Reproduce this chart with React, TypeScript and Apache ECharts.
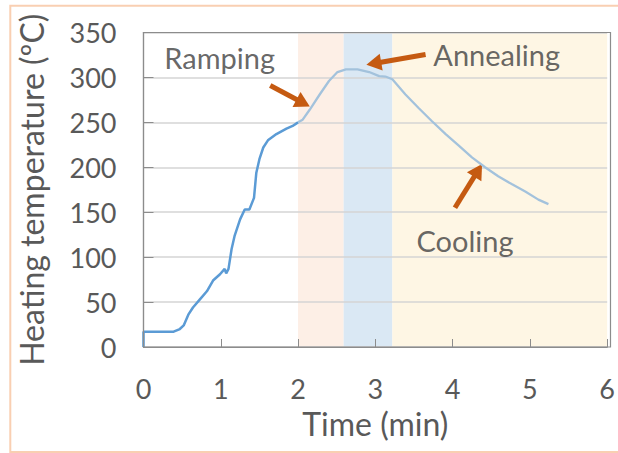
import React, { useEffect, useRef } from "react";
import * as echarts from "echarts";

// Heating profile: dark part (ramp-up) and light part (ramping/annealing/cooling)
const heatingCurve: [number, number][] = [
  [0, 0], [0, 17], [0.39, 17], [0.47, 20], [0.52, 24], [0.58, 36], [0.64, 44],
  [0.73, 53], [0.82, 62], [0.9, 74], [0.99, 81], [1.05, 87], [1.07, 82], [1.1, 87],
  [1.14, 109], [1.18, 124], [1.25, 142], [1.31, 153], [1.37, 153], [1.43, 166],
  [1.46, 194], [1.5, 209], [1.55, 222], [1.61, 230], [1.72, 237], [1.85, 243],
  [1.93, 246], [2.0, 250],
];
const processCurve: [number, number][] = [
  [2.0, 250], [2.06, 253], [2.15, 264], [2.28, 281], [2.4, 296], [2.51, 306],
  [2.62, 309], [2.77, 309], [2.92, 306], [3.05, 301.5], [3.13, 301], [3.22, 298],
  [3.39, 281], [3.56, 266], [3.73, 251.5], [3.91, 237], [4.08, 224], [4.25, 211],
  [4.42, 200], [4.59, 190], [4.77, 181], [4.94, 173], [5.11, 164], [5.24, 159],
];
// Phase bands [start, end] in minutes
const bandRamping: [number, number] = [2.0, 2.59];
const bandAnnealing: [number, number] = [2.59, 3.22];
const bandCooling: [number, number] = [3.22, 6];
// Annotation labels [x, y, text]
const labels: [number, number, string][] = [
  [0.985, 322, "Ramping"],
  [4.57, 325.5, "Annealing"],
  [4.16, 119, "Cooling"],
];
// Arrows [[x1, y1], [x2, y2]] tail -> tip
const arrows: [[number, number], [number, number]][] = [
  [[1.64, 291], [2.066, 271.5]],
  [[3.65, 325.5], [2.98, 315.5]],
  [[4.03, 155], [4.33, 196.5]],
];
const xTicks = [0, 6, 1];
const yTicks = [0, 350, 50];

const FONT = "Lato";

export default function App() {
  const ref = useRef<HTMLDivElement>(null);
  useEffect(() => {
    document.body.style.margin = "0";
    const chart = echarts.init(ref.current!, undefined, { renderer: "svg" });
    const gl = 143.5, gt = 32.5, gr = 7.5, gb = 106;
    chart.setOption({
      animation: false,
      backgroundColor: "#ffffff",
      grid: { left: gl, top: gt, right: gr, bottom: gb },
      xAxis: {
        type: "value",
        min: xTicks[0], max: xTicks[1], interval: xTicks[2],
        z: 3,
        name: "Time (min)",
        nameLocation: "middle",
        nameGap: 60,
        nameTextStyle: { fontFamily: FONT, fontSize: 32, color: "#595959" },
        axisLine: { show: true, lineStyle: { color: "#8c8c8c", width: 1.2 } },
        axisTick: { show: true, inside: true, length: 8, lineStyle: { color: "#8c8c8c" } },
        axisLabel: { margin: 28, fontFamily: FONT, fontSize: 27, color: "#595959" },
        splitLine: { show: false },
      },
      yAxis: {
        type: "value",
        min: yTicks[0], max: yTicks[1], interval: yTicks[2],
        z: 3,
        name: "Heating temperature (ºC)",
        nameLocation: "middle",
        nameGap: 96,
        nameTextStyle: { fontFamily: FONT, fontSize: 32, color: "#595959" },
        axisLine: { show: true, lineStyle: { color: "#8c8c8c", width: 1.2 } },
        axisTick: { show: true, inside: true, length: 10, lineStyle: { color: "#8c8c8c" } },
        axisLabel: { margin: 27, fontFamily: FONT, fontSize: 27, color: "#595959" },
        splitLine: { show: true, lineStyle: { color: "#d4d4d4", width: 1.5 } },
      },
      graphic: [
        {
          type: "rect", z: 10, silent: true,
          shape: { x: gl, y: gt, width: 618 - gl - gr, height: 453 - gt - gb },
          style: { fill: "none", stroke: "#8c8c8c", lineWidth: 1.2 },
        },
        {
          type: "rect", z: 10, silent: true,
          shape: { x: 10.3, y: 5.8, width: 700, height: 446.2 },
          style: { fill: "none", stroke: "#f9cfb2", lineWidth: 2 },
        },
      ],
      series: [
        {
          type: "line",
          data: [],
          z: 1,
          silent: true,
          markArea: {
            silent: true,
            data: [
              [{ xAxis: bandRamping[0], itemStyle: { color: "#fdefe6" } }, { xAxis: bandRamping[1] }],
              [{ xAxis: bandAnnealing[0], itemStyle: { color: "#dae8f4" } }, { xAxis: bandAnnealing[1] }],
              [{ xAxis: bandCooling[0], itemStyle: { color: "#fef6e4" } }, { xAxis: bandCooling[1] }],
            ],
          },
        },
        {
          type: "line",
          data: heatingCurve,
          z: 5,
          showSymbol: false,
          symbol: "none",
          lineStyle: { color: "#5b9bd5", width: 2.5 },
        },
        {
          type: "line",
          data: processCurve,
          z: 5,
          showSymbol: false,
          symbol: "none",
          lineStyle: { color: "#a3c2dc", width: 2.3 },
          markLine: {
            silent: true,
            symbol: ["none", "triangle"],
            symbolSize: [17, 15],
            label: { show: false },
            lineStyle: { color: "#c55a11", width: 5, type: "solid" },
            data: arrows.map(([a, b]) => [{ coord: a }, { coord: b }]),
          },
        },
        {
          type: "scatter",
          z: 6,
          symbolSize: 0,
          silent: true,
          data: labels.map(([x, y, t]) => ({ value: [x, y], name: t })),
          label: {
            show: true,
            position: "inside",
            formatter: (p: any) => p.name,
            fontFamily: FONT,
            fontSize: 29,
            color: "#404040",
          },
        },
      ],
    });
    return () => chart.dispose();
  }, []);
  return <div ref={ref} style={{ width: 618, height: 453 }} />;
}
